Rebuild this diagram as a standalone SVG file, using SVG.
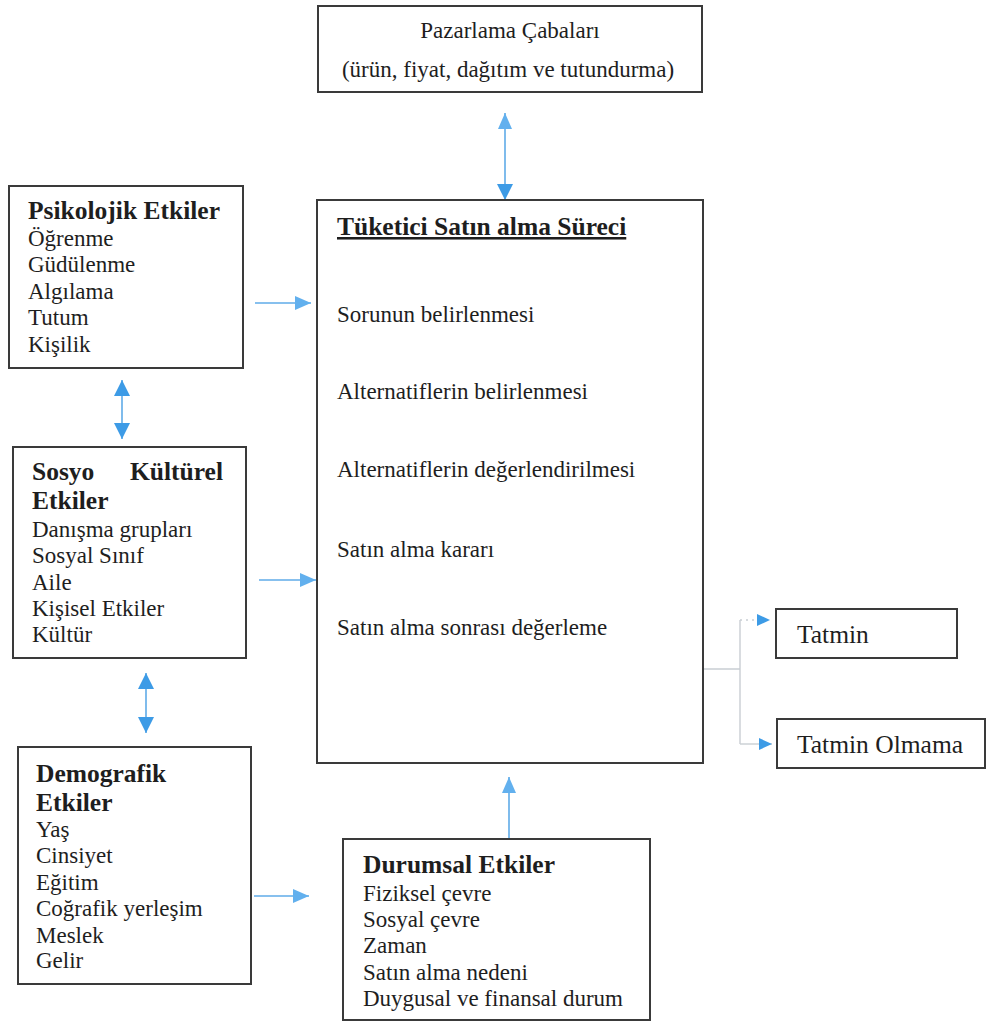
<svg xmlns="http://www.w3.org/2000/svg" width="987" height="1022" viewBox="0 0 987 1022">
<style>
.box{fill:#fff;stroke:#3a3a3a;stroke-width:2}
text{font-family:"Liberation Serif","Times New Roman",serif;fill:#1e1e1e;font-size:23px}
.b{font-weight:bold;font-size:25.5px}
.t{font-size:25.5px}
.c{fill:none;stroke:#5fabe8;stroke-width:1.6}
.g{fill:none;stroke:#c9ced3;stroke-width:1.4}
</style>
<defs>
<marker id="big" markerUnits="userSpaceOnUse" markerWidth="17" markerHeight="16" refX="16" refY="8" orient="auto-start-reverse"><path d="M0,0 L16,8 L0,16 z" fill="#3d9be6"/></marker>
<marker id="mid" markerUnits="userSpaceOnUse" markerWidth="17" markerHeight="14" refX="16" refY="7" orient="auto-start-reverse"><path d="M0,0 L16,7 L0,14 z" fill="#62b0ee"/></marker>
<marker id="sm" markerUnits="userSpaceOnUse" markerWidth="14" markerHeight="12" refX="13" refY="6" orient="auto"><path d="M0,0 L13,6 L0,12 z" fill="#3d9be6"/></marker>
</defs>
<g id="connectors">
<line class="c" x1="505" y1="113" x2="505" y2="200" marker-start="url(#mid)" marker-end="url(#big)"/>
<line class="c" x1="255" y1="303" x2="311" y2="303" marker-end="url(#mid)"/>
<line class="c" x1="259" y1="580" x2="316" y2="580" marker-end="url(#mid)"/>
<line class="c" x1="254" y1="896" x2="309" y2="896" marker-end="url(#mid)"/>
<line class="c" x1="122" y1="380" x2="122" y2="439" marker-start="url(#big)" marker-end="url(#big)"/>
<line class="c" x1="146" y1="673" x2="146" y2="733" marker-start="url(#big)" marker-end="url(#big)"/>
<line class="c" x1="509" y1="839" x2="509" y2="777" marker-end="url(#mid)"/>
<path class="g" d="M703,669 H740 M740,620 V744"/>
<line class="g" x1="740" y1="744" x2="772" y2="744" marker-end="url(#sm)"/>
<line class="g" x1="740" y1="620" x2="770" y2="620" stroke-dasharray="2 4" marker-end="url(#sm)"/>
</g>
<g id="pazarlama">
<rect class="box" x="318" y="6" width="384" height="86"/>
<text x="510" y="38" text-anchor="middle">Pazarlama Çabaları</text>
<text x="508" y="77" text-anchor="middle">(ürün, fiyat, dağıtım ve tutundurma)</text>
</g>
<g id="surec">
<rect class="box" x="317" y="200" width="386" height="563"/>
<text class="b" x="337" y="235" text-decoration="underline">Tüketici Satın alma Süreci</text>
<text x="337" y="322">Sorunun belirlenmesi</text>
<text x="337" y="399">Alternatiflerin belirlenmesi</text>
<text x="337" y="477">Alternatiflerin değerlendirilmesi</text>
<text x="337" y="557">Satın alma kararı</text>
<text x="337" y="635">Satın alma sonrası değerleme</text>
</g>
<g id="psikolojik">
<rect class="box" x="9" y="186" width="234" height="182"/>
<text class="b" x="28" y="219">Psikolojik Etkiler</text>
<text x="28" y="246">Öğrenme</text>
<text x="28" y="272">Güdülenme</text>
<text x="28" y="299">Algılama</text>
<text x="28" y="325">Tutum</text>
<text x="28" y="352">Kişilik</text>
</g>
<g id="sosyo">
<rect class="box" x="13" y="447" width="233" height="211"/>
<text class="b" x="32" y="480">Sosyo</text>
<text class="b" x="223" y="480" text-anchor="end">Kültürel</text>
<text class="b" x="32" y="509">Etkiler</text>
<text x="32" y="537">Danışma grupları</text>
<text x="32" y="563">Sosyal Sınıf</text>
<text x="32" y="590">Aile</text>
<text x="32" y="616">Kişisel Etkiler</text>
<text x="32" y="642">Kültür</text>
</g>
<g id="demografik">
<rect class="box" x="18" y="747" width="233" height="237"/>
<text class="b" x="36" y="782">Demografik</text>
<text class="b" x="36" y="811">Etkiler</text>
<text x="36" y="837">Yaş</text>
<text x="36" y="863">Cinsiyet</text>
<text x="36" y="890">Eğitim</text>
<text x="36" y="916">Coğrafik yerleşim</text>
<text x="36" y="943">Meslek</text>
<text x="36" y="968">Gelir</text>
</g>
<g id="durumsal">
<rect class="box" x="343" y="839" width="307" height="181"/>
<text class="b" x="363" y="873">Durumsal Etkiler</text>
<text x="363" y="901">Fiziksel çevre</text>
<text x="363" y="927">Sosyal çevre</text>
<text x="363" y="953">Zaman</text>
<text x="363" y="980">Satın alma nedeni</text>
<text x="363" y="1006">Duygusal ve finansal durum</text>
</g>
<g id="tatmin">
<rect class="box" x="776" y="609" width="181" height="49"/>
<text class="t" x="797" y="643">Tatmin</text>
</g>
<g id="tatmin-olmama">
<rect class="box" x="777" y="719" width="208" height="49"/>
<text class="t" x="797" y="753">Tatmin Olmama</text>
</g>
</svg>
